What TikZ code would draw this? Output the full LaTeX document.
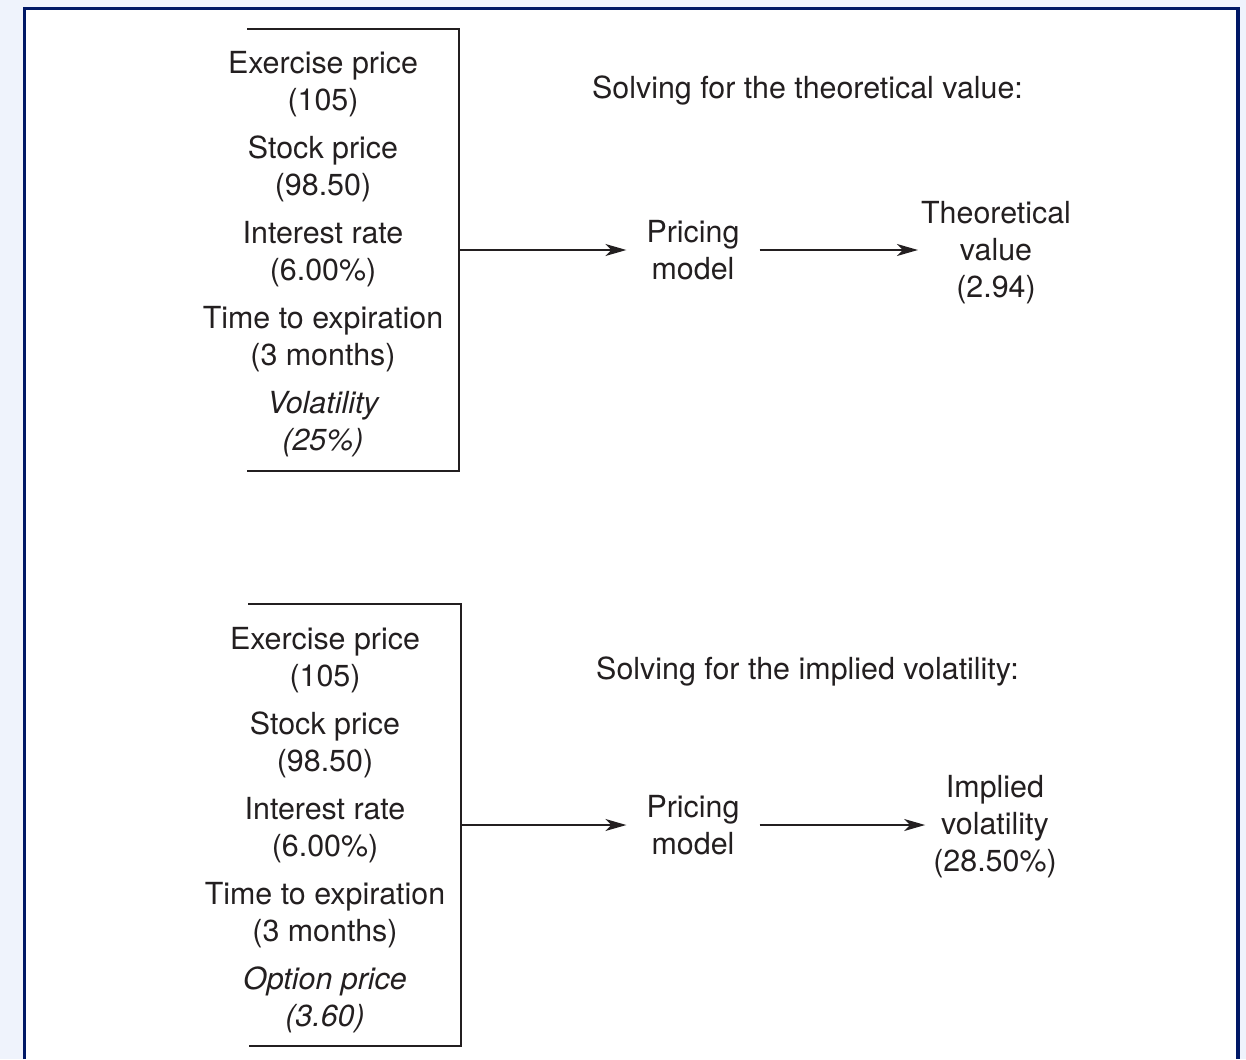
\documentclass[tikz,border=0pt]{standalone}
\usepackage{fontspec}
\setmainfont{TeX Gyre Heros}
\usetikzlibrary{arrows.meta}
\definecolor{fondo}{RGB}{239,243,252}
\definecolor{marco}{RGB}{0,24,102}
\definecolor{tinta}{RGB}{35,31,32}
\begin{document}
\begin{tikzpicture}[x=1pt,y=-1pt,
    txt/.style={align=center,text=tinta,inner sep=0pt,font=\fontsize{30.4}{37}\selectfont},
    flecha/.style={draw=tinta,line width=1.5pt,-{Stealth[length=21pt,width=12pt,inset=6pt]}}]
    \useasboundingbox (0,0) rectangle (1246,1059);

    % Fondo y marco
    \fill[fondo] (0,0) rectangle (1246,1059);
    \fill[white] (24,8) rectangle (1238,1059);
    \draw[marco,line width=3.5pt] (24.5,1059) -- (24.5,8.5) -- (1238,8.5) -- (1238,1059);

    % Valor teorico
    \coordinate (inA) at (459,250);
    \draw[tinta,line width=1.4pt] (247,29) -| (459,471) -- (247,471);
    \node[txt] (datA) at (323,254) {Exercise price\\(105)\\[11pt]Stock price\\(98.50)\\[11pt]Interest rate\\(6.00\%)\\[11pt]Time to expiration\\(3 months)\\[11pt]\itshape Volatility\\\itshape(25\%)};
    \node[txt] (titA) at (807.5,90) {Solving for the theoretical value:};
    \node[txt,inner sep=20pt] (pmA) at (693,250) {Pricing\\model};
    \node[txt,inner sep=3pt] (resA) at (996,253) {Theoretical\\value\\(2.94)};
    \draw[flecha] (inA) -- (pmA.west);
    \draw[flecha] (pmA.east) -- (pmA.east -| resA.west);

    % Volatilidad implicita
    \coordinate (inB) at (461,825);
    \draw[tinta,line width=1.4pt] (248,604) -| (461,1046) -- (249,1046);
    \node[txt] (datB) at (325,830) {Exercise price\\(105)\\[11pt]Stock price\\(98.50)\\[11pt]Interest rate\\(6.00\%)\\[11pt]Time to expiration\\(3 months)\\[11pt]\itshape Option price\\\itshape(3.60)};
    \node[txt] (titB) at (807.5,671) {Solving for the implied volatility:};
    \node[txt,inner sep=20pt] (pmB) at (693,825) {Pricing\\model};
    \node[txt,inner sep=8pt] (resB) at (995,827) {Implied\\volatility\\(28.50\%)};
    \draw[flecha] (inB) -- (pmB.west);
    \draw[flecha] (pmB.east) -- (pmB.east -| resB.west);
\end{tikzpicture}
\end{document}
